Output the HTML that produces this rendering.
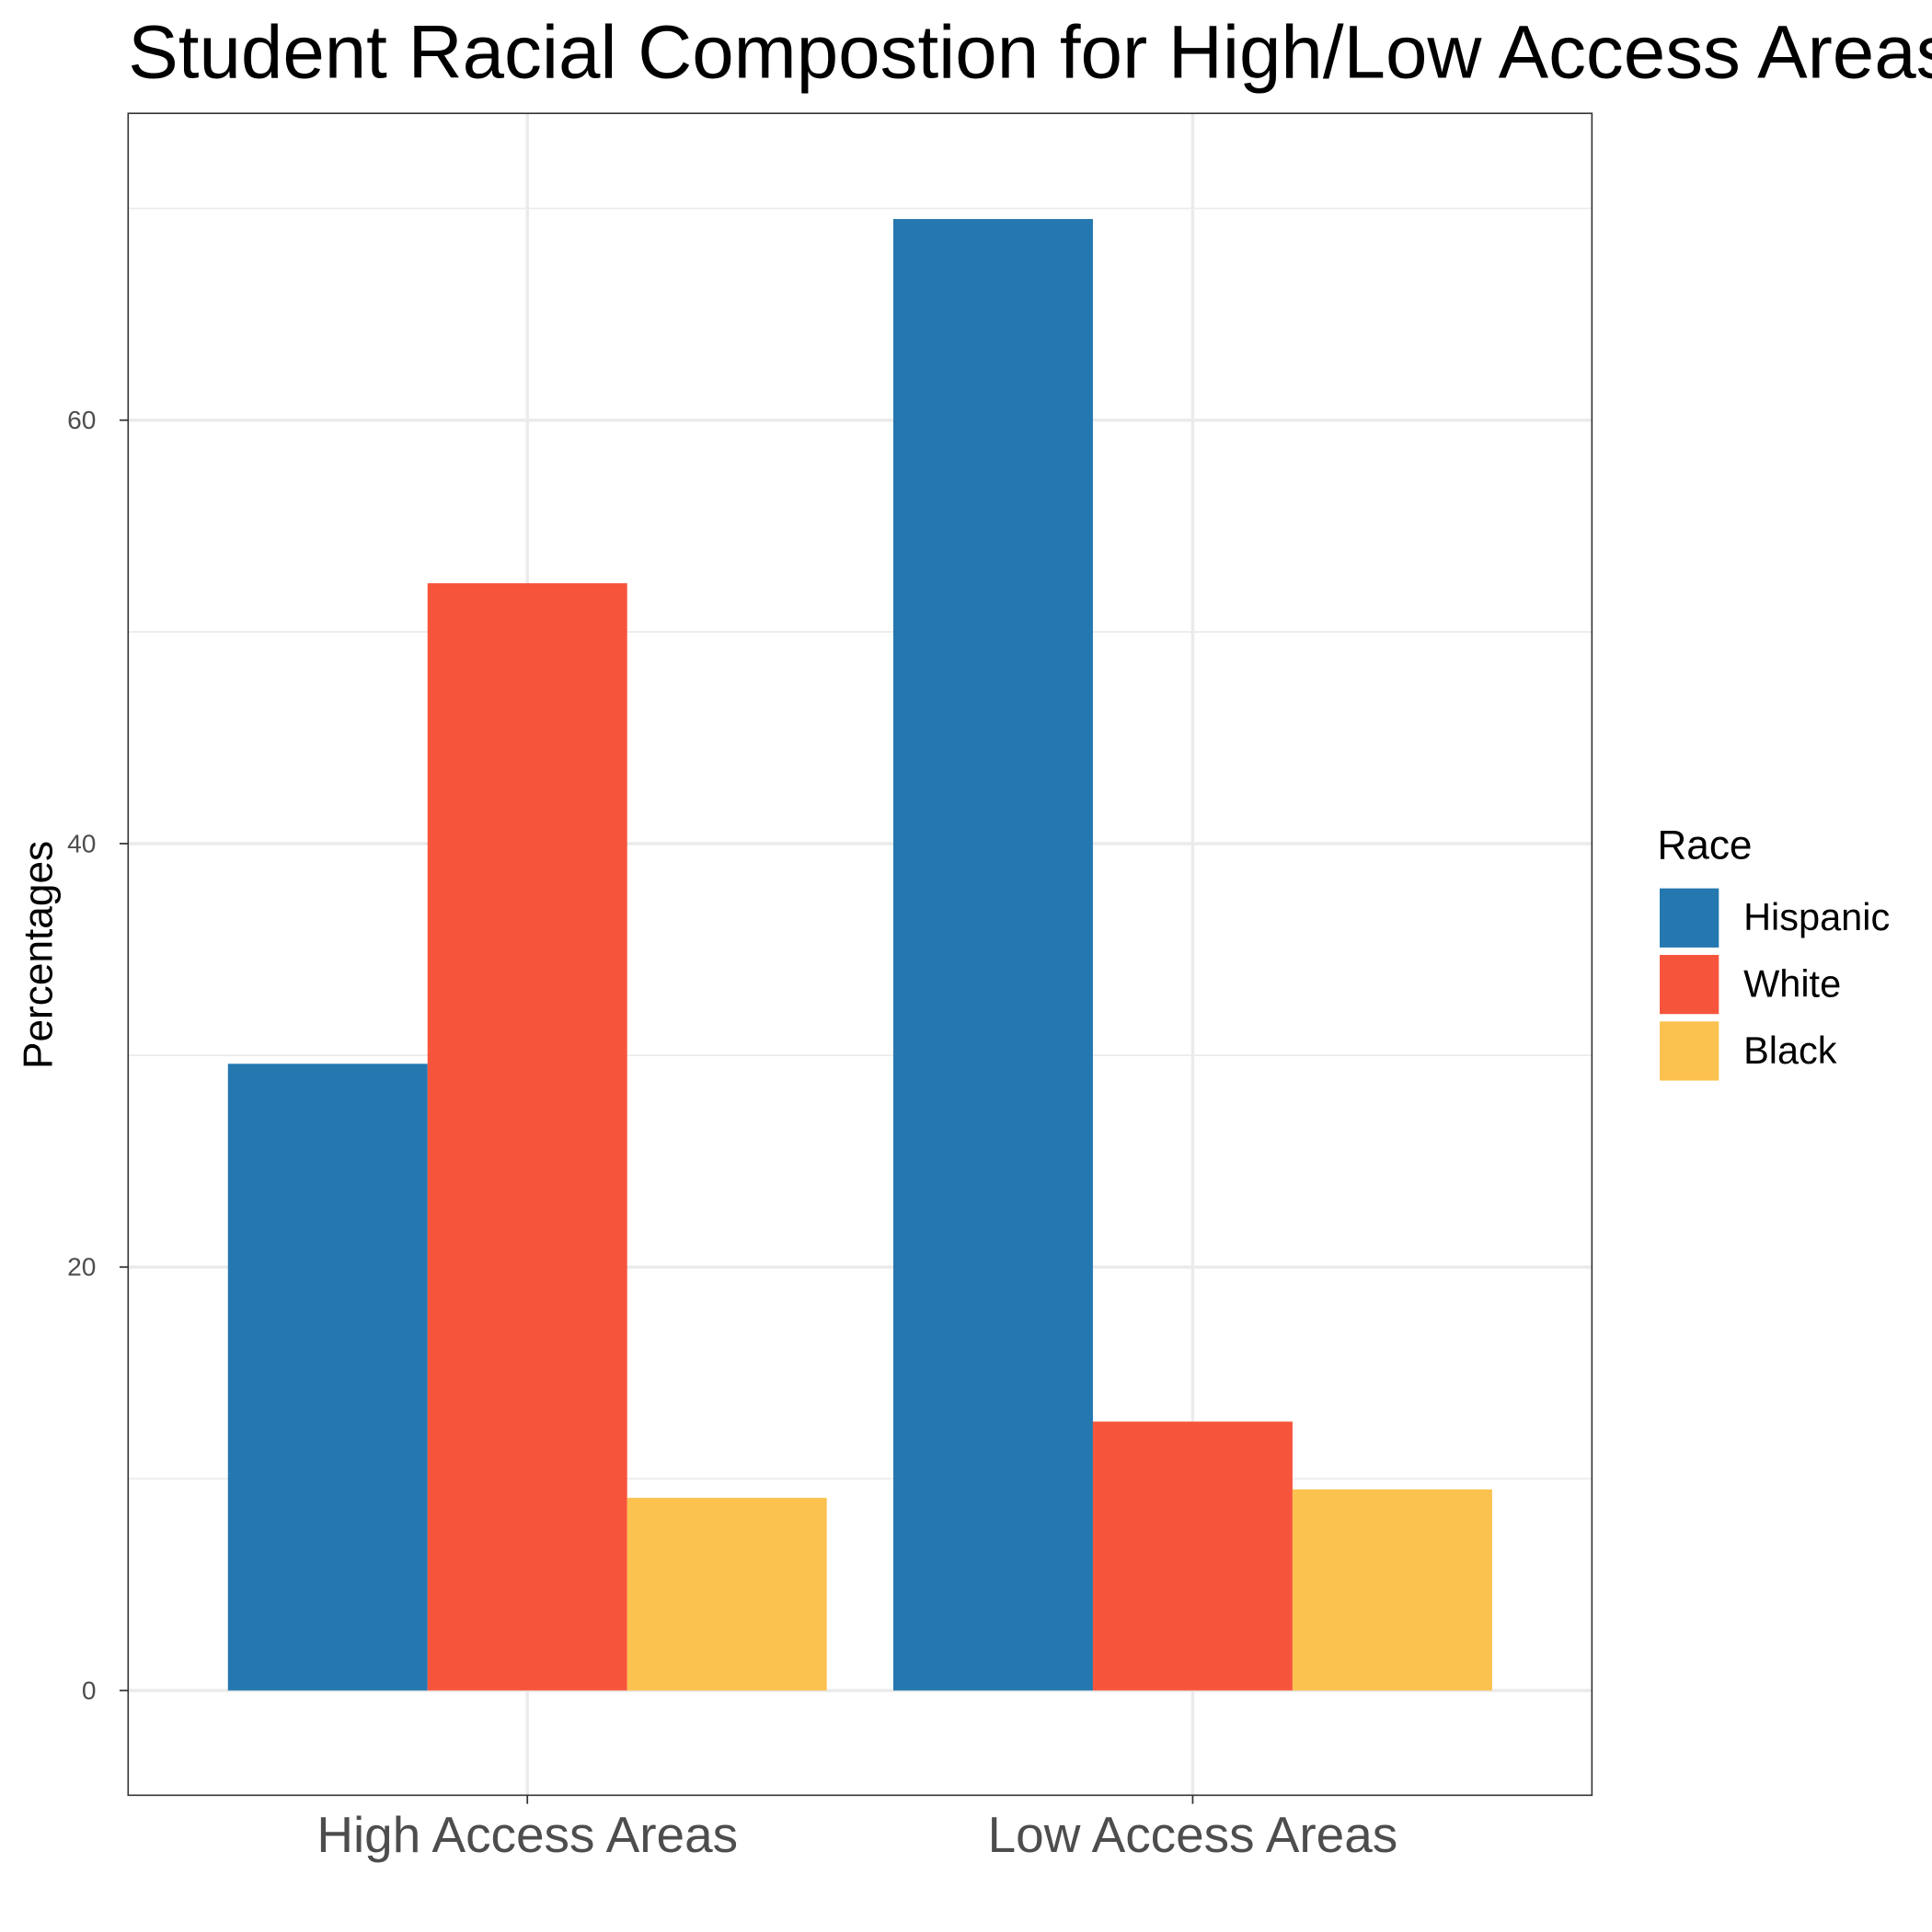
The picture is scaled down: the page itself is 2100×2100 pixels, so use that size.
<!DOCTYPE html>
<html><head><meta charset="utf-8"><style>html,body{margin:0;padding:0;background:#fff}svg{display:block}text{font-family:"Liberation Sans",Arial,sans-serif}</style></head>
<body>
<svg id="chart" width="2100" height="2100" viewBox="0 0 1568 1568" xmlns="http://www.w3.org/2000/svg">
<rect width="1568" height="1568" fill="#fff"/>
<text x="104" y="63" font-size="61" fill="#000">Student Racial Compostion for High/Low Access Areas</text>
<g id="grid"></g><g id="bars"></g><g id="axes"></g>
<rect x="104" y="92" width="1188" height="1365" fill="none" stroke="#333" stroke-width="1.2"/>
<text transform="translate(42,775) rotate(-90)" text-anchor="middle" font-size="33" fill="#000">Percentages</text>
<g id="legend"></g>
</svg>
<script>
const categories = ["High Access Areas","Low Access Areas"];
const series = ["Hispanic","White","Black"];
const colors = ["#2577af","#f6553c","#fcc24f"];
const hispanic = [29.6, 69.5];
const white = [52.3, 12.7];
const black = [9.1, 9.5];
const yTicks = [0,20,40,60];
const yMinor = [10,30,50,70];
const values = [hispanic, white, black];
const NS="http://www.w3.org/2000/svg";
function y(v){return 1372 - v*(1372-341)/60;}
function x(c){return 428 + c*540;}
function mk(p,tag,a){const e=document.createElementNS(NS,tag);for(const k in a)e.setAttribute(k,a[k]);document.getElementById(p).appendChild(e);return e;}
yMinor.forEach(v=>{const l=mk('grid','line',{x1:104,x2:1292,y1:y(v),y2:y(v),stroke:'#ebebeb','stroke-width':1.3});

});
yTicks.forEach(v=>{const l=mk('grid','line',{x1:104,x2:1292,y1:y(v),y2:y(v),stroke:'#ebebeb','stroke-width':2.6});


const t=mk('axes','line',{x1:97,x2:104,y1:y(v),y2:y(v),stroke:'#333','stroke-width':1.3});


const tx=mk('axes','text',{x:78,y:y(v)+7,'text-anchor':'end','font-size':21,fill:'#4d4d4d'});tx.textContent=v;

});
categories.forEach((c,i)=>{const l=mk('grid','line',{x1:x(i),x2:x(i),y1:92,y2:1457,stroke:'#ebebeb','stroke-width':2.6});


const t=mk('axes','line',{x1:x(i),x2:x(i),y1:1457,y2:1464,stroke:'#333','stroke-width':1.3});


const tx=mk('axes','text',{x:x(i),y:1503,'text-anchor':'middle','font-size':41,fill:'#4d4d4d'});tx.textContent=c;


const bw=540*0.9/3;
values.forEach((s,j)=>{const x0=x(i)-540*0.45+j*bw;const r=mk('bars','rect',{x:x0,y:y(s[i]),width:bw,height:y(0)-y(s[i]),fill:colors[j]});

});});
const lt=mk('legend','text',{x:1345,y:697,'font-size':33,fill:'#000'});lt.textContent='Race';


series.forEach((s,j)=>{const r=mk('legend','rect',{x:1347,y:721+j*54,width:48,height:48,fill:colors[j]});


const t=mk('legend','text',{x:1415,y:755+j*54,'font-size':31,fill:'#000'});t.textContent=s;

});
</script>
</body></html>
